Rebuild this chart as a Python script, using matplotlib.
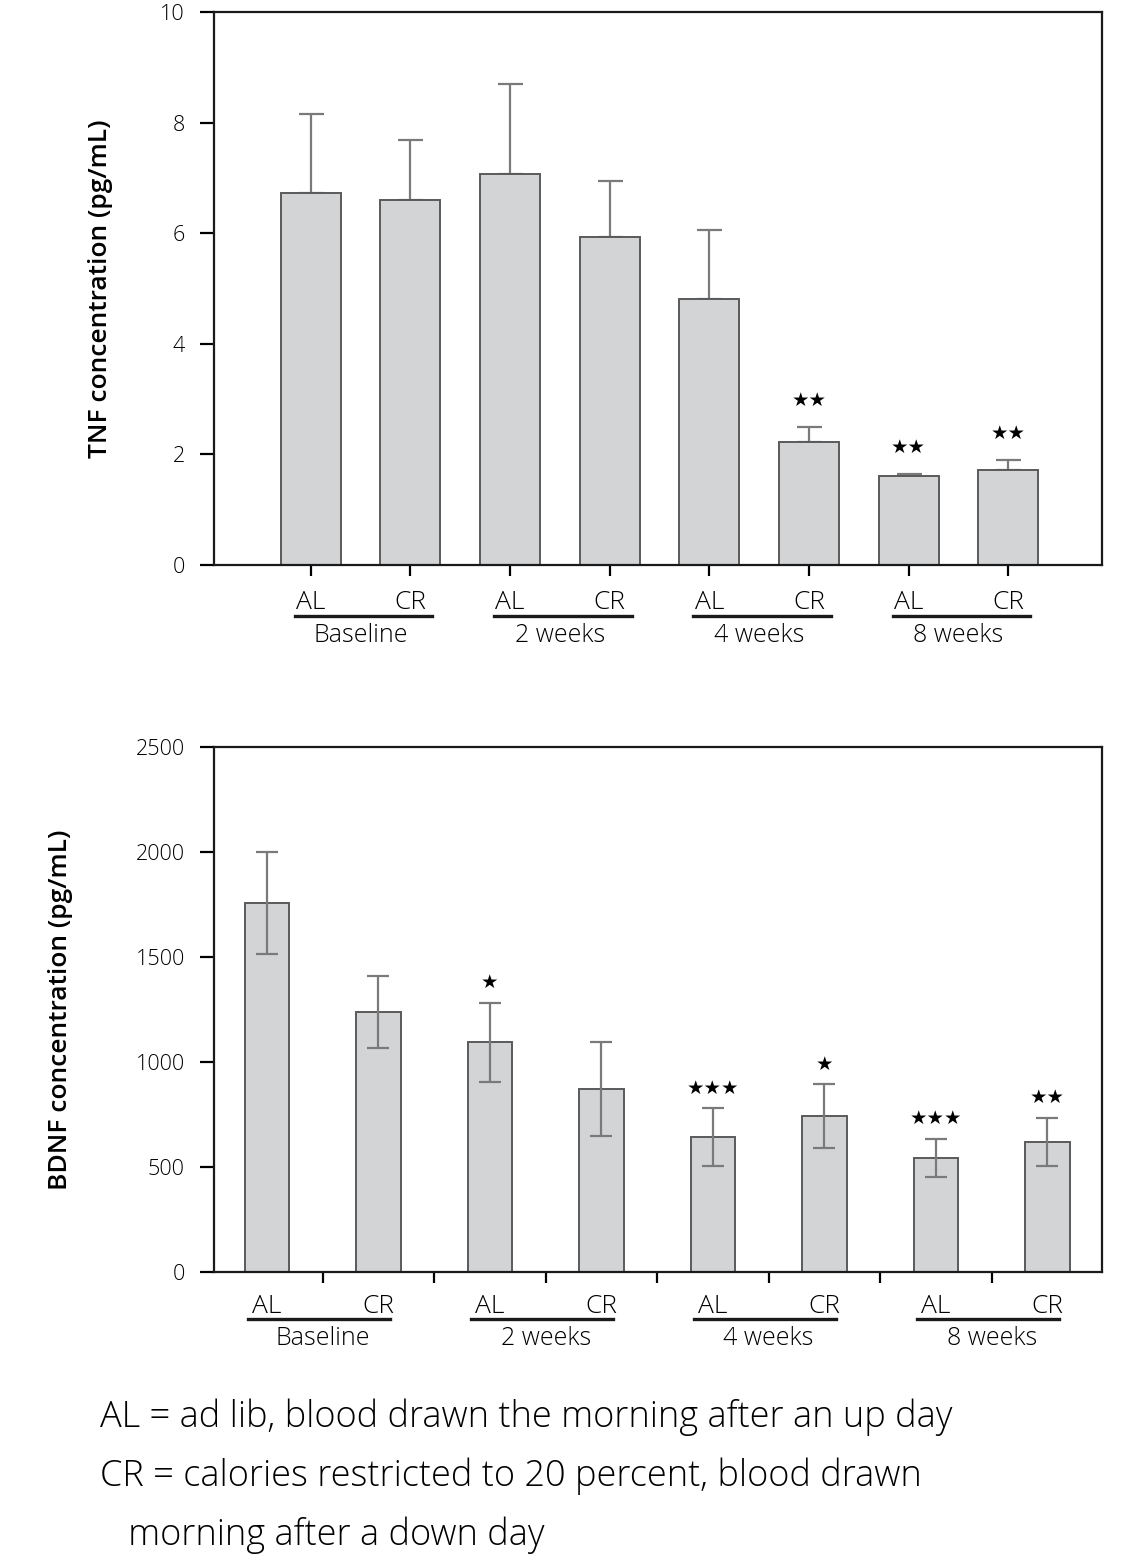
import numpy as np
import matplotlib.pyplot as plt

plt.rcParams['font.family'] = ['Open Sans', 'DejaVu Sans']

# ---------------- data ----------------
groups = ['Baseline', '2 weeks', '4 weeks', '8 weeks']
diets = ['AL', 'CR']

tnf_mean = [6.73, 6.60, 7.07, 5.93, 4.81, 2.22, 1.61, 1.72]
tnf_err = [1.43, 1.09, 1.63, 1.01, 1.25, 0.28, 0.04, 0.18]
tnf_stars = ['', '', '', '', '', '★★', '★★', '★★']

bdnf_mean = [1757, 1238, 1095, 871, 643, 743, 543, 619]
bdnf_err = [242, 170, 188, 224, 138, 152, 92, 116]
bdnf_stars = ['', '', '★', '', '★★★', '★', '★★★', '★★']

notes = ['AL = ad lib, blood drawn the morning after an up day',
         'CR = calories restricted to 20 percent, blood drawn',
         '   morning after a down day']

bar_col = '#d3d4d6'
edge_col = '#5a5a5a'
W, H = 1144, 1567

fig = plt.figure(figsize=(W / 100, H / 100), dpi=100)

def px_axes(l, t, r, b):
    return fig.add_axes([l / W, 1 - b / H, (r - l) / W, (b - t) / H])

def style(ax):
    for s in ax.spines.values():
        s.set_linewidth(1.6)
        s.set_color('#1a1a1a')
    ax.tick_params(axis='y', length=10, width=1.6, labelsize=15.5, pad=11)
    for t in ax.get_yticklabels():
        t.set_fontweight('light')

def group_labels(ax, x, y_line, y_text, left, right):
    tr = ax.get_xaxis_transform()
    for g, name in enumerate(groups):
        a, c = x[2 * g], x[2 * g + 1]
        ax.plot([a + left, c + right], [y_line, y_line], color='#1a1a1a', lw=2.4,
                transform=tr, clip_on=False)
        ax.text((a + c) / 2, y_text, name, transform=tr, ha='center', va='center',
                fontsize=18, fontweight='light')

# ---------------- TNF ----------------
ax1 = px_axes(214, 12, 1102, 565)
x = np.arange(len(tnf_mean))
ax1.bar(x, tnf_mean, width=0.6, color=bar_col, edgecolor=edge_col, linewidth=1.4, zorder=2)
ax1.errorbar(x, tnf_mean, yerr=[np.zeros(len(x)), tnf_err], fmt='none', ecolor='#7a7a7a',
             elinewidth=1.6, capsize=9, capthick=1.6, zorder=1)
for xi, m, e, s in zip(x, tnf_mean, tnf_err, tnf_stars):
    if s:
        ax1.text(xi, m + e + 0.3, s, ha='center', va='bottom', fontsize=14,
                 family=['DejaVu Sans'])
ax1.set_xlim(-0.97, 7.94)
ax1.set_ylim(0, 10)
ax1.set_yticks([0, 2, 4, 6, 8, 10])
ax1.set_xticks(x, diets * 4)
style(ax1)
ax1.tick_params(axis='x', length=8, width=1.6, labelsize=19, pad=10)
for t in ax1.get_xticklabels():
    t.set_fontweight('light')
ax1.set_ylabel('TNF concentration (pg/mL)', fontsize=19, fontweight='semibold', labelpad=34)
group_labels(ax1, x, -0.092, -0.127, -0.16, 0.22)

# ---------------- BDNF ----------------
ax2 = px_axes(214, 747, 1102, 1272)
ax2.bar(x, bdnf_mean, width=0.4, color=bar_col, edgecolor=edge_col, linewidth=1.4, zorder=2)
ax2.errorbar(x, bdnf_mean, yerr=bdnf_err, fmt='none', ecolor='#7a7a7a',
             elinewidth=1.6, capsize=8, capthick=1.6, zorder=3)
for xi, m, e, s in zip(x, bdnf_mean, bdnf_err, bdnf_stars):
    if s:
        ax2.text(xi, m + e + 50, s, ha='center', va='bottom', fontsize=14,
                 family=['DejaVu Sans'])
ax2.set_xlim(-0.475, 7.49)
ax2.set_ylim(0, 2500)
ax2.set_yticks(np.arange(0, 2501, 500))
ax2.set_xticks(x, diets * 4)
ax2.set_xticks(x[:-1] + 0.5, minor=True)
style(ax2)
ax2.tick_params(axis='x', which='major', length=0, labelsize=19, pad=15.5)
ax2.tick_params(axis='x', which='minor', length=8, width=1.6)
for t in ax2.get_xticklabels():
    t.set_fontweight('light')
ax2.set_ylabel('BDNF concentration (pg/mL)', fontsize=19, fontweight='semibold', labelpad=45)
group_labels(ax2, x, -0.0895, -0.126, -0.17, 0.1)

# ---------------- footnote ----------------
for i, line in enumerate(notes):
    fig.text(100 / W, 1 - (1417 + 59 * i) / H, line, fontsize=26, va='center', ha='left',
             fontweight='light')

fig.savefig('out.png', dpi=100)
